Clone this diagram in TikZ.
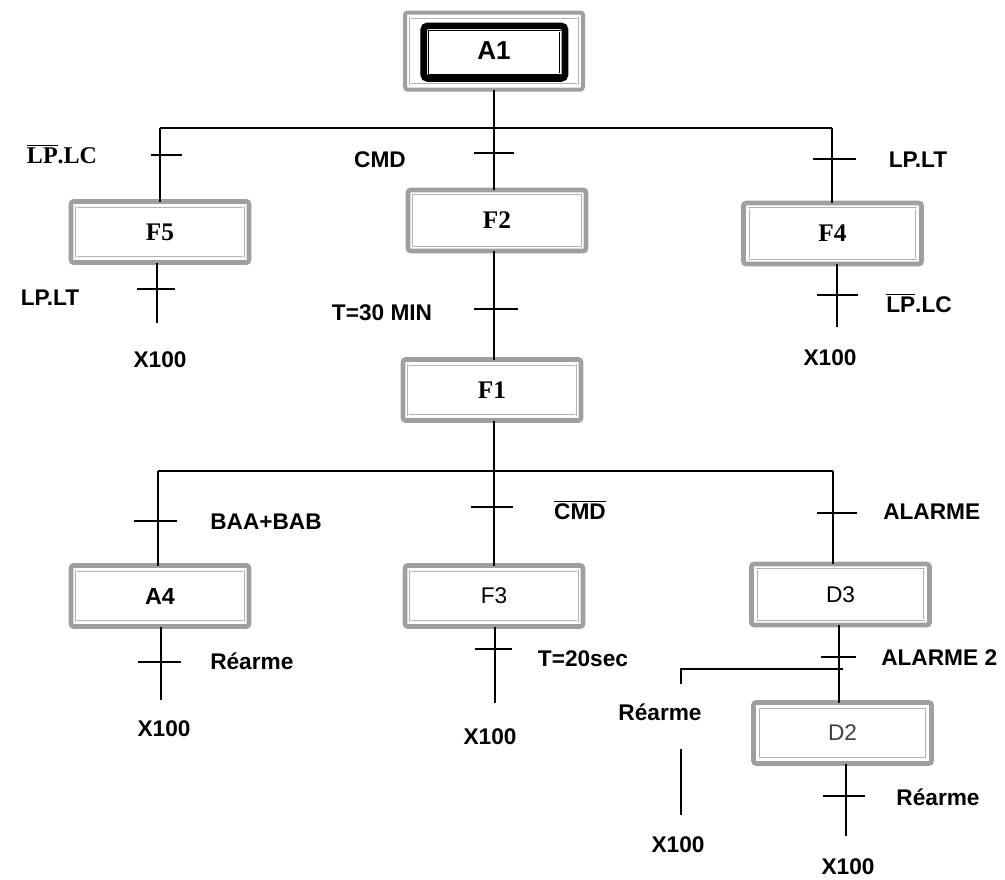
\documentclass[tikz,border=0pt]{standalone}
\usepackage{fontspec}
\setmainfont{Liberation Serif}
\newfontfamily\sansf{Liberation Sans}
\begin{document}
\begin{tikzpicture}[x=0.75pt,y=-0.75pt,
  conn/.style={line width=1.1pt, black},
  lbl/.style={inner sep=0pt, font=\sansf\bfseries\fontsize{17}{20}\selectfont},
  slbl/.style={inner sep=0pt, font=\bfseries\fontsize{18}{21}\selectfont},
  stepbox/.style={draw=gray!75, line width=3.5pt, rounded corners=2pt,
    minimum width=133.5pt, minimum height=45.75pt, inner sep=0pt, outer sep=0pt,
    path picture={\draw[gray!60, line width=0.4pt, double=white, double distance=0.9pt, sharp corners]
      ([shift={(4pt,-4pt)}]path picture bounding box.north west) rectangle
      ([shift={(-4pt,4pt)}]path picture bounding box.south east);}},
  initbox/.style={draw=gray!75, line width=3pt, rounded corners=2pt,
    minimum width=133.5pt, minimum height=57.75pt, inner sep=0pt, outer sep=0pt,
    path picture={
      \draw[gray!60, line width=0.4pt, double=white, double distance=0.9pt, sharp corners]
        ([shift={(4pt,-4pt)}]path picture bounding box.north west) rectangle
        ([shift={(-4pt,4pt)}]path picture bounding box.south east);
      \draw[black, line width=5pt, rounded corners=3pt]
        ([shift={(14pt,-10pt)}]path picture bounding box.north west) rectangle
        ([shift={(-13.5pt,8.25pt)}]path picture bounding box.south east);
      \draw[black, line width=0.4pt, double=white, double distance=0.7pt, sharp corners]
        ([shift={(18pt,-14pt)}]path picture bounding box.north west) rectangle
        ([shift={(-17pt,12pt)}]path picture bounding box.south east);}},
  sbox/.style={font=\bfseries\fontsize{19}{22}\selectfont},
  abox/.style={font=\sansf\bfseries\fontsize{17.5}{20}\selectfont},
  rbox/.style={font=\sansf\fontsize{17}{20}\selectfont}
]
\useasboundingbox (0,0) rectangle (1005,879);

% steps
\node[initbox, abox, font=\sansf\bfseries\fontsize{19.5}{22}\selectfont] (A1) at (494,51) {A1};
\node[stepbox, sbox] (F5) at (160,232) {F5};
\node[stepbox, sbox] (F2) at (497,220.5) {F2};
\node[stepbox, sbox] (F4) at (832.5,233.5) {F4};
\node[stepbox, sbox] (F1) at (492,390) {F1};
\node[stepbox, abox] (A4) at (160,596) {A4};
\node[stepbox, rbox] (F3) at (494,596) {F3};
\node[stepbox, rbox] (D3) at (840.5,594.5) {D3};
\node[stepbox, rbox, text=black!75] (D2) at (842.5,733) {D2};

% coordinates
\coordinate (b1L) at (160,128);
\coordinate (b1R) at (832,128);
\coordinate (b1M) at (494,128);
\coordinate (b2L) at (158,471);
\coordinate (b2R) at (833,471);
\coordinate (b2M) at (494,471);
\coordinate (e5) at (157,323);
\coordinate (e4) at (837,327);
\coordinate (e7) at (161,700);
\coordinate (e9) at (495,703);
\coordinate (j) at (839,669);
\coordinate (jR) at (843,669);
\coordinate (jL) at (681,669);
\coordinate (jE) at (681,684);
\coordinate (r1) at (681,749);
\coordinate (r2) at (681,815);
\coordinate (e12) at (846,836);

% ticks
\coordinate (t1) at (160,155);
\coordinate (t2) at (494,153);
\coordinate (t3) at (832,159);
\coordinate (t4) at (157,289);
\coordinate (t5) at (494,309);
\coordinate (t6) at (837,295);
\coordinate (t7) at (158,521);
\coordinate (t8) at (161,662);
\coordinate (t9) at (494,507);
\coordinate (t10) at (495,649);
\coordinate (t11) at (833,513);
\coordinate (t12) at (839,657);
\coordinate (t13) at (846,796);

% connectors
\draw[conn] (A1) -- (b1M);
\draw[conn] (b1L) -- (b1R);
\draw[conn] (b1L) -- (b1L |- F5.north);
\draw[conn] (b1M) -- (b1M |- F2.north);
\draw[conn] (b1R) -- (b1R |- F4.north);
\draw[conn] (e5 |- F5.south) -- (e5);
\draw[conn] (b1M |- F2.south) -- (b1M |- F1.north);
\draw[conn] (e4 |- F4.south) -- (e4);
\draw[conn] (b2M |- F1.south) -- (b2M);
\draw[conn] (b2L) -- (b2R);
\draw[conn] (b2L) -- (b2L |- A4.north);
\draw[conn] (b2M) -- (b2M |- F3.north);
\draw[conn] (b2R) -- (b2R |- D3.north);
\draw[conn] (e7 |- A4.south) -- (e7);
\draw[conn] (e9 |- F3.south) -- (e9);
\draw[conn] (j |- D3.south) -- (j |- D2.north);
\draw[conn] (jR) -- (jL) -- (jE);
\draw[conn] (r1) -- (r2);
\draw[conn] (e12 |- D2.south) -- (e12);

\draw[conn] (t1) ++(-9,0) -- ++(31,0);
\draw[conn] (t2) ++(-20,0) -- ++(40,0);
\draw[conn] (t3) ++(-19,0) -- ++(43,0);
\draw[conn] (t4) ++(-20,0) -- ++(38,0);
\draw[conn] (t5) ++(-20,0) -- ++(44,0);
\draw[conn] (t6) ++(-20,0) -- ++(41,0);
\draw[conn] (t7) ++(-24,0) -- ++(43,0);
\draw[conn] (t8) ++(-23,0) -- ++(43,0);
\draw[conn] (t9) ++(-23,0) -- ++(42,0);
\draw[conn] (t10) ++(-20,0) -- ++(37,0);
\draw[conn] (t11) ++(-16,0) -- ++(40,0);
\draw[conn] (t12) ++(-18,0) -- ++(35,0);
\draw[conn] (t13) ++(-23,0) -- ++(42,0);

% labels
\node[slbl] (l1) at (62,154) {$\overline{\mbox{LP}}$.LC};
\node[lbl] (l2) at (380,160) {CMD};
\node[lbl] (l3) at (918,160) {LP.LT};
\node[lbl] (l4) at (50,298) {LP.LT};
\node[lbl] (x1) at (160,360) {X100};
\node[lbl] (l5) at (382,313) {T=30 MIN};
\node[lbl] (l6) at (919,303) {$\overline{\mbox{LP}}$.LC};
\node[lbl] (x2) at (830,358) {X100};
\node[lbl, anchor=west] (l7) at (210,522) {BAA+BAB};
\node[lbl, anchor=west] (l8) at (210,661) {Réarme};
\node[lbl] (x3) at (164,729) {X100};
\node[lbl] (l9) at (580,510) {$\overline{\mbox{CMD}}$};
\node[lbl] (l10) at (583,659) {T=20sec};
\node[lbl] (x4) at (490,737) {X100};
\node[lbl, anchor=west] (l11) at (883,512) {ALARME};
\node[lbl, anchor=west] (l12) at (881,658) {ALARME 2};
\node[lbl] (l13) at (660,712) {Réarme};
\node[lbl] (x5) at (678,845) {X100};
\node[lbl] (l14) at (938,797) {Réarme};
\node[lbl] (x6) at (848,867) {X100};
\end{tikzpicture}
\end{document}
